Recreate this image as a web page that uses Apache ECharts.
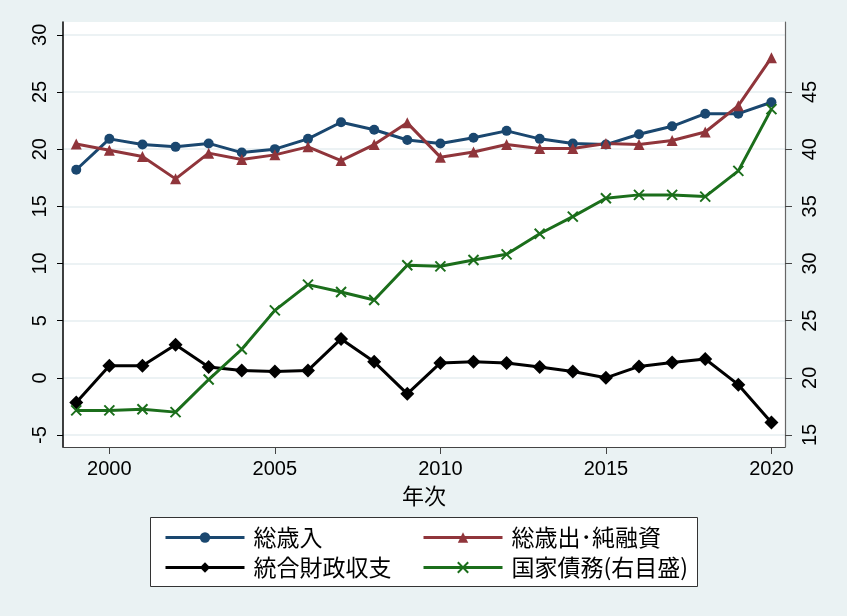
<!DOCTYPE html>
<html>
<head>
<meta charset="utf-8">
<script src="https://cdn.jsdelivr.net/npm/echarts@6/dist/echarts.min.js"></script>
<style>
html,body{margin:0;padding:0;background:#eaf2f3;}
#c{width:847px;height:616px;}
</style>
</head>
<body>
<div id="c"></div>
<script>
var years = [1999,2000,2001,2002,2003,2004,2005,2006,2007,2008,2009,2010,2011,2012,2013,2014,2015,2016,2017,2018,2019,2020];
var revenue = [18.2,20.9,20.4,20.2,20.5,19.7,20.0,20.9,22.35,21.7,20.8,20.5,21.0,21.6,20.9,20.5,20.4,21.3,22.0,23.1,23.1,24.1];
var expenditure = [20.45,19.9,19.35,17.4,19.65,19.1,19.5,20.2,19.0,20.4,22.3,19.3,19.75,20.4,20.05,20.05,20.5,20.4,20.75,21.5,23.8,28.0];
var balance = [-2.15,1.05,1.05,2.9,0.95,0.65,0.55,0.65,3.4,1.4,-1.4,1.3,1.4,1.3,0.95,0.55,0.0,1.0,1.35,1.65,-0.6,-3.9];
var debt = [17.15,17.15,17.25,17.0,19.85,22.5,25.9,28.15,27.5,26.8,29.85,29.75,30.3,30.8,32.6,34.1,35.7,36.0,36.0,35.85,38.1,43.5];
var xTicks = [2000,2005,2010,2015,2020];
var leftTicks = [-5,0,5,10,15,20,25,30];
var rightTicks = [15,20,25,30,35,40,45];
var names = ['総歳入','総歳出･純融資','統合財政収支','国家債務(右目盛)'];

function pairs(v){ return years.map(function(y,i){ return [y, v[i]]; }); }

var FONT = 'Liberation Sans, Arial, Noto Sans CJK JP, sans-serif';
var JFONT = 'Noto Sans CJK JP, Liberation Sans, sans-serif';
var xMark = 'path://M0,0L10,10M10,0L0,10';

var legendCommon = {
  orient: 'vertical', top: 521,
  itemWidth: 79, itemHeight: 13, itemGap: 7,
  lineStyle: {width: 3},
  textStyle: {fontSize: 23, fontFamily: JFONT, color: '#000', lineHeight: 23, padding: [0,0,0,4]},
  z: 5
};

var chart = echarts.init(document.getElementById('c'));
chart.setOption({
  backgroundColor: '#eaf2f3',
  animation: false,
  grid: {left: 63, right: 62, top: 22, bottom: 169, show: true, backgroundColor: '#ffffff', borderWidth: 0},
  graphic: [{
    type: 'rect', left: 150, top: 517, z: 0,
    shape: {width: 547, height: 69},
    style: {fill: '#ffffff', stroke: '#333333', lineWidth: 1}
  }],
  legend: [
    Object.assign({}, legendCommon, {data: [names[0], names[2]], left: 159}),
    Object.assign({}, legendCommon, {data: [names[1], names[3]], left: 417})
  ],
  xAxis: {
    type: 'value', min: 1998.6, max: 2020.41,
    name: '年次', nameLocation: 'middle', nameGap: 38,
    nameTextStyle: {fontSize: 22, fontFamily: JFONT, color: '#000'},
    axisLine: {show: true, onZero: false, lineStyle: {color: '#444', width: 1.2}},
    axisTick: {show: true, length: 7, customValues: xTicks, lineStyle: {color: '#444'}},
    axisLabel: {customValues: xTicks, fontSize: 20, fontFamily: FONT, color: '#000', margin: 12,
      formatter: function(v){ return String(v); }},
    splitLine: {show: false}
  },
  yAxis: [{
    type: 'value', min: -6.05, max: 31.12, position: 'left',
    axisLine: {show: true, lineStyle: {color: '#000', width: 1.5}},
    axisTick: {show: true, length: 6, customValues: leftTicks, lineStyle: {color: '#000'}},
    axisLabel: {customValues: leftTicks, rotate: 90, fontSize: 20, fontFamily: FONT, color: '#000', margin: 13},
    splitLine: {show: true, lineStyle: {color: '#e6eef0', width: 1.5}}
  },{
    type: 'value', min: 13.95, max: 51.12, position: 'right',
    axisLine: {show: true, lineStyle: {color: '#666', width: 1.2}},
    axisTick: {show: true, length: 7, customValues: rightTicks, lineStyle: {color: '#444'}},
    axisLabel: {customValues: rightTicks, rotate: 90, fontSize: 20, fontFamily: FONT, color: '#000', margin: 15},
    splitLine: {show: false}
  }],
  series: [{
    name: names[0], type: 'line', yAxisIndex: 0, data: pairs(revenue),
    symbol: 'circle', symbolSize: 10,
    lineStyle: {color: '#1a476f', width: 3}, itemStyle: {color: '#1a476f'}, z: 3
  },{
    name: names[1], type: 'line', yAxisIndex: 0, data: pairs(expenditure),
    symbol: 'triangle', symbolSize: 11,
    lineStyle: {color: '#90353b', width: 3}, itemStyle: {color: '#90353b'}, z: 3
  },{
    name: names[2], type: 'line', yAxisIndex: 0, data: pairs(balance),
    symbol: 'diamond', symbolSize: 14,
    lineStyle: {color: '#000000', width: 3}, itemStyle: {color: '#000000'}, z: 3
  },{
    name: names[3], type: 'line', yAxisIndex: 1, data: pairs(debt),
    symbol: xMark, symbolSize: 10,
    lineStyle: {color: '#1b6e1b', width: 3},
    itemStyle: {color: 'none', borderColor: '#1b6e1b', borderWidth: 2}, z: 3
  }]
});
</script>
</body>
</html>
